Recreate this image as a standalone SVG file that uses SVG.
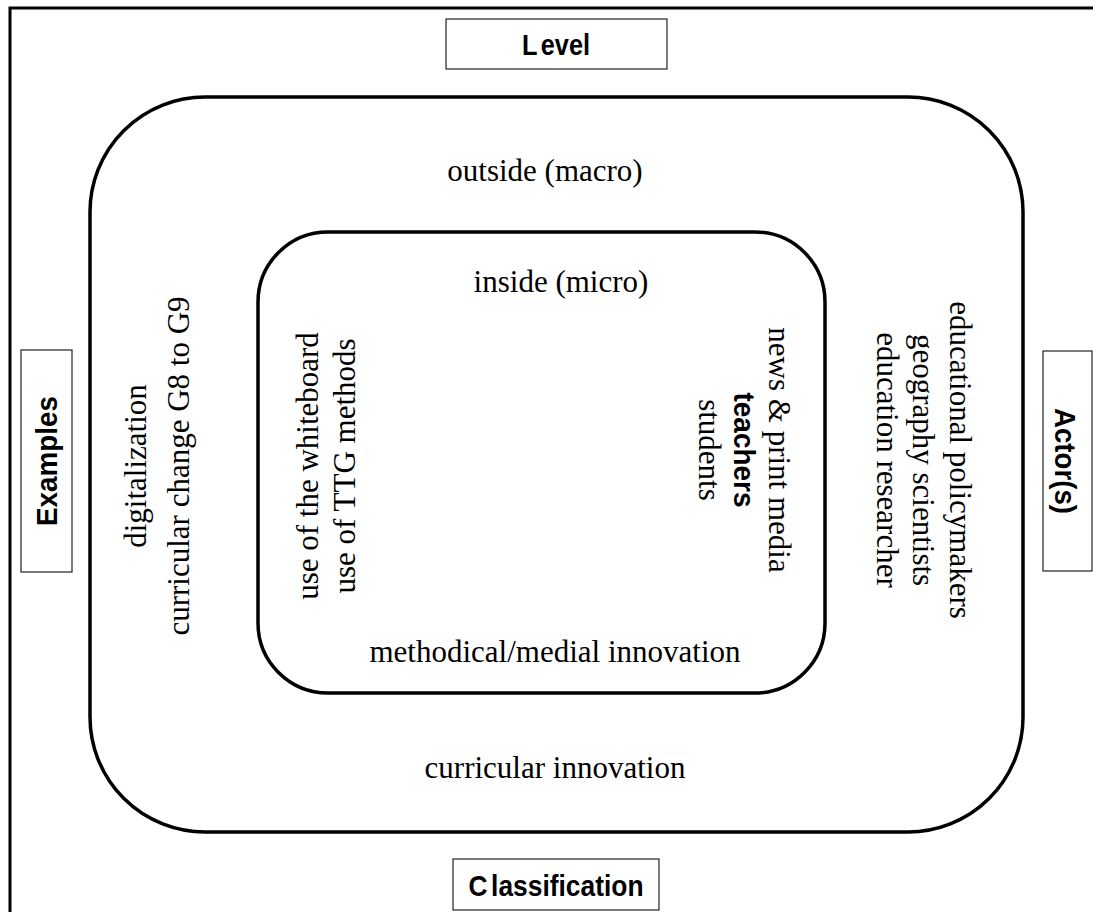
<svg xmlns="http://www.w3.org/2000/svg" width="1093" height="912" viewBox="0 0 1093 912">
<style>
.frame{fill:none;stroke:#000;stroke-width:3}
.ring{fill:none;stroke:#000;stroke-width:3.5}
.lbl{fill:#fff;stroke:#222;stroke-width:1.2}
.ser{font-family:"Liberation Serif","Times New Roman",serif;font-size:31px;fill:#000}
.bold{font-family:"Liberation Sans",Arial,sans-serif;font-weight:bold;font-size:30px;fill:#000}
</style>
<rect width="1093" height="912" fill="#fff"/>
<g id="frame">
<path class="frame" d="M10,912 V8 H1093"/>
</g>
<g id="outer">
<rect class="ring" x="90" y="97" width="933" height="735" rx="115" ry="115"/>
<text class="ser" x="545" y="181" font-size="33" text-anchor="middle">outside (macro)</text>
<text class="ser" x="555" y="778" text-anchor="middle">curricular innovation</text>
</g>
<g id="inner">
<rect class="ring" x="258" y="232" width="567" height="461" rx="70" ry="70"/>
<text class="ser" x="561" y="292" text-anchor="middle">inside (micro)</text>
<text class="ser" x="555" y="662" text-anchor="middle">methodical/medial innovation</text>
</g>
<g id="examples-outer">
<text class="ser" transform="translate(146,466) rotate(-90)" text-anchor="middle">digitalization</text>
<text class="ser" transform="translate(189,466) rotate(-90)" text-anchor="middle">curricular change G8 to G9</text>
</g>
<g id="examples-inner">
<text class="ser" transform="translate(318,466) rotate(-90)" text-anchor="middle">use of the whiteboard</text>
<text class="ser" transform="translate(355,466) rotate(-90)" text-anchor="middle">use of TTG methods</text>
</g>
<g id="actors-inner">
<text class="ser" transform="translate(769,450) rotate(90)" text-anchor="middle">news &amp; print media</text>
<text class="bold" transform="translate(734,450) rotate(90)" text-anchor="middle" font-size="28" textLength="115" lengthAdjust="spacingAndGlyphs">teachers</text>
<text class="ser" transform="translate(699,450) rotate(90)" text-anchor="middle">students</text>
</g>
<g id="actors-outer">
<text class="ser" transform="translate(950,460) rotate(90)" text-anchor="middle">educational policymakers</text>
<text class="ser" transform="translate(913,460) rotate(90)" text-anchor="middle">geography scientists</text>
<text class="ser" transform="translate(877,460) rotate(90)" text-anchor="middle">education researcher</text>
</g>
<g id="level">
<rect class="lbl" x="446" y="19" width="221" height="50"/>
<text class="bold" x="556" y="55" text-anchor="middle" font-size="32" textLength="68" lengthAdjust="spacingAndGlyphs">L<tspan dx="4">evel</tspan></text>
</g>
<g id="classification">
<rect class="lbl" x="453" y="859" width="206" height="51"/>
<text class="bold" x="556" y="896" text-anchor="middle" font-size="32" textLength="175" lengthAdjust="spacingAndGlyphs">C<tspan dx="4">lassification</tspan></text>
</g>
<g id="examples">
<rect class="lbl" x="21" y="350" width="51" height="222"/>
<text class="bold" transform="translate(57,461) rotate(-90)" text-anchor="middle" textLength="130" lengthAdjust="spacingAndGlyphs">Examples</text>
</g>
<g id="actors">
<rect class="lbl" x="1043" y="351" width="49" height="220"/>
<text class="bold" transform="translate(1055,461) rotate(90)" text-anchor="middle" textLength="106" lengthAdjust="spacingAndGlyphs">Actor(s)</text>
</g>
<g id="connectors"></g>
</svg>
